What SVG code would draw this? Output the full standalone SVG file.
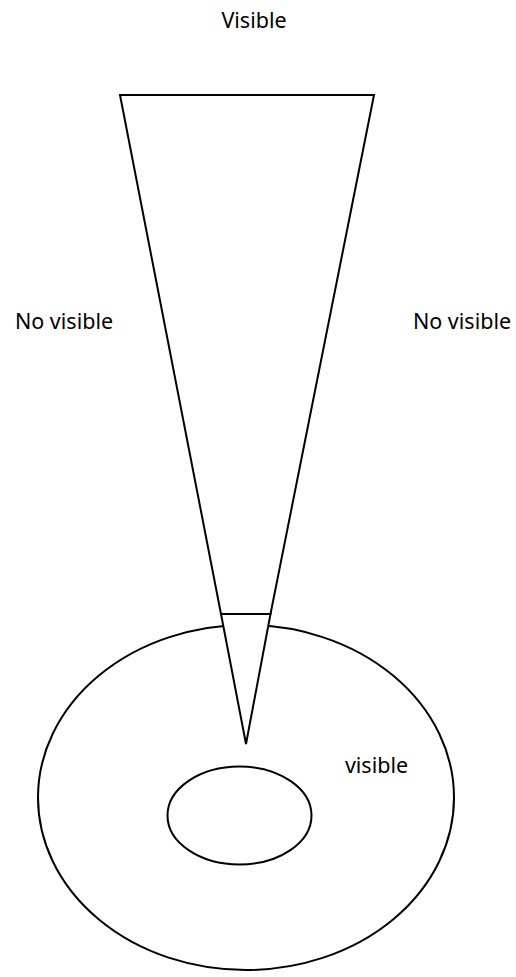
<svg xmlns="http://www.w3.org/2000/svg" width="516" height="977" viewBox="0 0 516 977">
<style>
.s{fill:#fff;stroke:#000;stroke-width:2}
.t{font-family:"Noto Sans","DejaVu Sans",sans-serif;font-size:21.5px;fill:#000;text-anchor:middle}
</style>
<rect width="516" height="977" fill="#fff"/>
<g id="cone-upper"><polygon class="s" points="120,95 374,95 270.5,614 221,614"/></g>
<g id="outer-ellipse"><ellipse class="s" cx="246" cy="797.5" rx="208" ry="172.5"/></g>
<g id="cone-tip"><polygon class="s" points="221,614 270.5,614 246,744"/></g>
<g id="inner-ellipse"><ellipse class="s" cx="239.5" cy="815.5" rx="72" ry="49"/></g>
<g id="labels">
<text class="t" x="254" y="28">Visible</text>
<text class="t" x="64" y="329">No visible</text>
<text class="t" x="462" y="329">No visible</text>
<text class="t" x="376.5" y="773">visible</text>
</g>
</svg>
